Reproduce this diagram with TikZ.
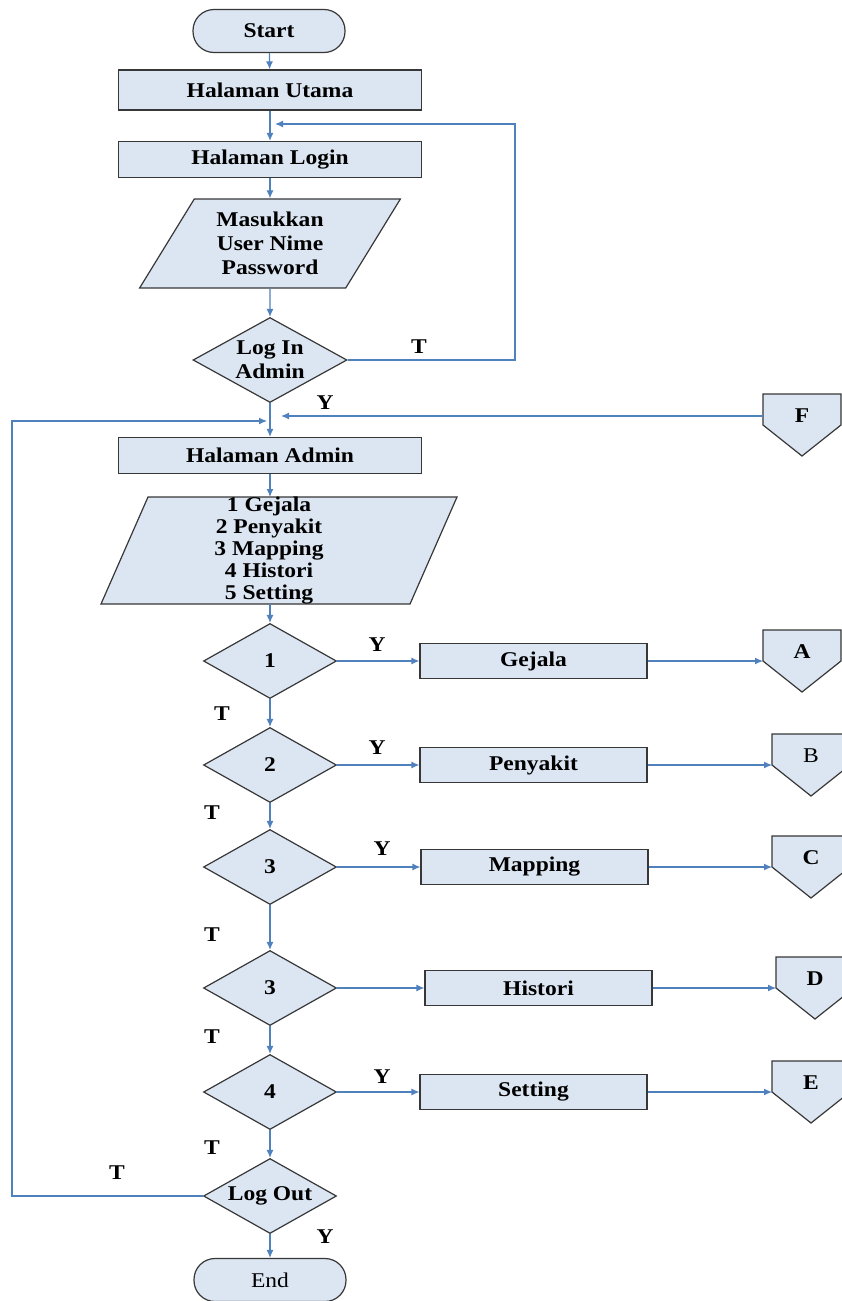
\documentclass[tikz,border=0pt]{standalone}
\usepackage{fontspec}
\setmainfont{Liberation Serif}[FakeStretch=1.12]
\usetikzlibrary{shapes.geometric,arrows.meta}

\definecolor{flowfill}{RGB}{220,230,242}
\definecolor{flowline}{RGB}{79,129,189}
\definecolor{flowedge}{RGB}{55,55,55}

\newcommand{\flowsize}{\fontsize{21}{24}\selectfont}

% off-page connector: name, left x, shoulder y, text
\newcommand{\offpage}[4]{%
	\draw[box] (#2,#3) -- (#2,#3-31) -- (#2+78,#3-31) -- (#2+78,#3) -- (#2+39,#3+31) -- cycle;
	\coordinate (#1) at (#2,#3);
	\coordinate (#1mid) at (#2,#3-9);
	\node (#1txt) at (#2+39,#3-9) {#4};
}

\begin{document}
\begin{tikzpicture}[x=1pt,y=-1pt,font=\bfseries\flowsize,
		box/.style={draw=flowedge,line width=1.2pt,fill=flowfill},
		term/.style={box,rectangle,rounded corners=21,minimum width=152,minimum height=43,inner sep=0},
		proc/.style={box,rectangle,minimum width=303,minimum height=36,inner sep=0},
		sub/.style={box,rectangle,minimum width=227,minimum height=35,inner sep=0},
		dec/.style={box,diamond,minimum width=133,minimum height=75,inner sep=0},
		io/.style={box,trapezium,trapezium stretches=true,inner sep=2pt,align=center},
		flow/.style={draw=flowline,line width=1.2pt,-{Latex[length=8pt,width=7pt]}}]
	\useasboundingbox[fill=white] (0,0) rectangle (842,1301);

	% main column
	\node[term] (start) at (269,31) {Start};
	\node[proc,minimum height=40] (utama) at (270,90) {Halaman Utama};
	\node[proc] (hlogin) at (270,159.5) {Halaman Login};
	\node[io,minimum width=261,minimum height=89,trapezium left angle=59,trapezium right angle=121] (input) at (270,243.5) {Masukkan\\User Nime\\Password};
	\node[dec,minimum width=154,minimum height=85,label={[align=center]center:Log In\\Admin}] (login) at (270,360) {};
	\node[proc] (admin) at (270,455.5) {Halaman Admin};
	% menu box drawn by hand
	\coordinate (menuTop) at (270,497);
	\coordinate (menuBot) at (270,604);
	\draw[box] (101,604) -- (148,497) -- (457,497) -- (410,604) -- cycle;
	\node[align=center,font=\bfseries\fontsize{21}{22}\selectfont] (menu) at (269,551) {1 Gejala\\2 Penyakit\\3 Mapping\\4 Histori\\5 Setting};
	\node[dec] (d1) at (270,661) {1};
	\node[dec] (d2) at (270,765) {2};
	\node[dec] (d3) at (270,867) {3};
	\node[dec] (d4) at (270,988) {3};
	\node[dec] (d5) at (270,1092) {4};
	\node[dec,label=center:Log Out] (logout) at (270,1196) {};
	\node[term,font=\flowsize] (end) at (270,1280) {End};

	% menu pages
	\node[sub] (gejala) at (533.5,661) {Gejala};
	\node[sub] (penyakit) at (533.5,765) {Penyakit};
	\node[sub] (mapping) at (534.5,867) {Mapping};
	\node[sub] (histori) at (538.5,988) {Histori};
	\node[sub] (setting) at (533.5,1092) {Setting};

	% connectors
	\offpage{ca}{763}{661}{A}
	\offpage{cb}{772}{765}{\mdseries B}
	\offpage{cc}{772}{867}{C}
	\offpage{cd}{776}{988}{D}
	\offpage{ce}{772}{1092}{E}
	\offpage{cf}{763}{425}{F}

	\coordinate (retT) at (515,124);
	\coordinate (retIn) at (275,124);
	\coordinate (jr) at (281,416);
	\coordinate (loopX) at (12,421);
	\coordinate (jl) at (267,421);

	\draw[flow] (start) -- (utama);
	\draw[flow] (utama) -- (hlogin);
	\draw[flow] (hlogin) -- (input);
	\draw[flow] (input) -- (login);
	\draw[flow] (login) -- (admin);
	\draw[flow] (admin) -- (menuTop);
	\draw[flow] (menuBot) -- (d1);
	\draw[flow] (d1) -- (d2);
	\draw[flow] (d2) -- (d3);
	\draw[flow] (d3) -- (d4);
	\draw[flow] (d4) -- (d5);
	\draw[flow] (d5) -- (logout);
	\draw[flow] (logout) -- (end);

	\draw[flow] (login.east) -| (retT) -- (retIn);
	\draw[flow] (cfmid) -- (jr);
	\draw[flow] (logout.west) -| (loopX) -- (jl);

	\draw[flow] (d1) -- (gejala);
	\draw[flow] (d2) -- (penyakit);
	\draw[flow] (d3) -- (mapping);
	\draw[flow] (d4) -- (histori);
	\draw[flow] (d5) -- (setting);
	\draw[flow] (gejala) -- (ca);
	\draw[flow] (penyakit) -- (cb);
	\draw[flow] (mapping) -- (cc);
	\draw[flow] (histori) -- (cd);
	\draw[flow] (setting) -- (ce);

	% branch labels
	\node (tlogin) at (419,347) {T};
	\node (ylogin) at (325,403) {Y};
	\node (y1) at (377,645) {Y};
	\node (y2) at (377,748) {Y};
	\node (y3) at (382,849) {Y};
	\node (y5) at (382,1077) {Y};
	\node (t1) at (222,714) {T};
	\node (t2) at (212,813) {T};
	\node (t3) at (212,935) {T};
	\node (t4) at (212,1037) {T};
	\node (t5) at (212,1148) {T};
	\node (tout) at (117,1173) {T};
	\node (yout) at (325,1237) {Y};
\end{tikzpicture}
\end{document}
